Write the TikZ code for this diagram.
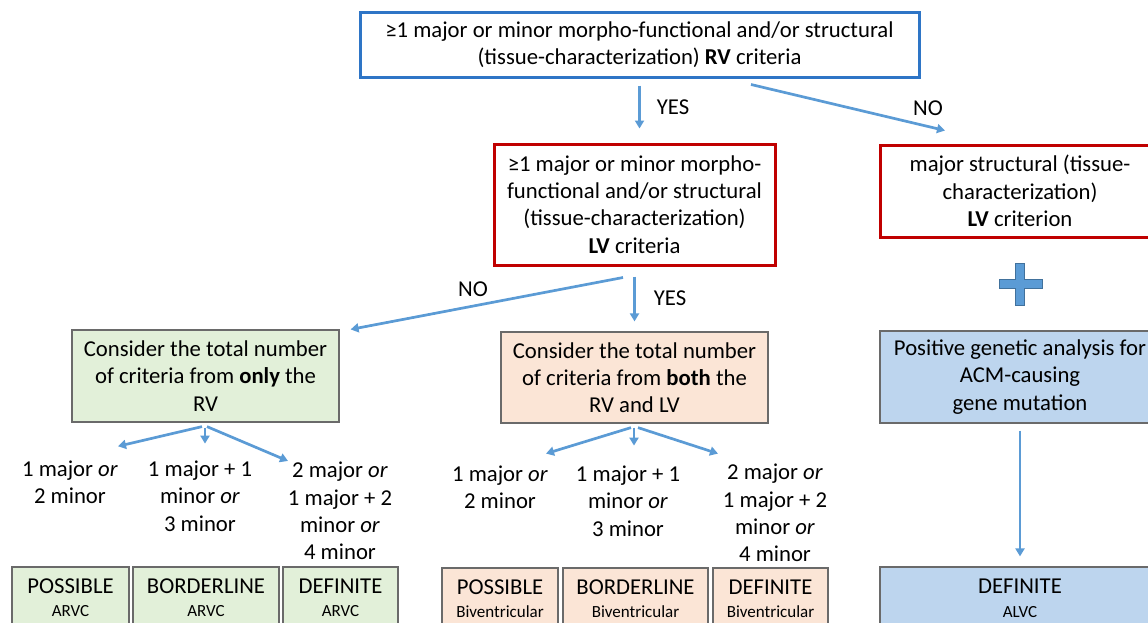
\documentclass[tikz,border=0pt]{standalone}
\usepackage{fontspec}
\setmainfont{Carlito}
\usetikzlibrary{arrows.meta,calc}
\definecolor{topblue}{HTML}{2E75C6}
\definecolor{boxred}{HTML}{C00000}
\definecolor{arrblue}{HTML}{5B9BD5}
\definecolor{gfill}{HTML}{E2F0D9}
\definecolor{pfill}{HTML}{FBE5D6}
\definecolor{bfill}{HTML}{BDD5EE}
\definecolor{bordgray}{HTML}{6A6A6A}
\definecolor{plusdark}{HTML}{41719C}
\tikzset{
  txt/.style={font=\fontsize{22.7}{27.3}\selectfont, inner sep=0pt, align=center},
  bluebox/.style={txt, draw=topblue, line width=3pt, rectangle},
  redbox/.style={txt, draw=boxred, line width=3pt, rectangle, fill=white},
  greenbox/.style={txt, draw=bordgray, line width=1.2pt, fill=gfill, rectangle},
  peachbox/.style={txt, draw=bordgray, line width=1.2pt, fill=pfill, rectangle},
  lbluebox/.style={txt, draw=bordgray, line width=1.2pt, fill=bfill, rectangle},
  arr/.style={draw=arrblue, line width=2.7pt, -{Triangle[length=8pt,width=9pt]}},
  lbl/.style={txt},
}
\newcommand{\subl}[1]{{\fontsize{17}{20}\selectfont #1}}
\begin{document}
\begin{tikzpicture}[x=1pt,y=-1pt]
\useasboundingbox (0,0) rectangle (1148,622);
\clip (0,0) rectangle (1148,622);

% top box
\node[bluebox, minimum width=559pt, minimum height=65pt] (top) at (639.5,44.5)
  {\fontsize{22.7}{26}\selectfont ≥1 major or minor morpho-functional and/or structural\\(tissue-characterization) \textbf{RV} criteria};

% LV box
\node[redbox, minimum width=281pt, minimum height=121pt] (lv) at (634.5,204.5)
  {≥1 major or minor morpho-\\functional and/or structural\\(tissue-characterization)\\\textbf{LV} criteria};

% right red box
\node[redbox, minimum width=280pt, minimum height=92pt] (rred) at (1020,191)
  {major structural (tissue-\\characterization)\\\textbf{LV} criterion};

% plus sign
\filldraw[fill=arrblue, draw=plusdark, line width=0.8pt]
  (1015.5,263) -- (1024.5,263) -- (1024.5,279.5) -- (1042,279.5) -- (1042,288.5)
  -- (1024.5,288.5) -- (1024.5,305) -- (1015.5,305) -- (1015.5,288.5) -- (999,288.5)
  -- (999,279.5) -- (1015.5,279.5) -- cycle;

% genetic box
\node[lbluebox, minimum width=280pt, minimum height=92pt] (gen) at (1020,377)
  {Positive genetic analysis for\\ACM-causing\\gene mutation};

% ALVC box
\node[lbluebox, minimum width=280pt, minimum height=62pt] (alvc) at (1020,598)
  {DEFINITE\\[-3pt]\subl{ALVC}};

% green and peach boxes
\node[greenbox, minimum width=267pt, minimum height=92pt] (green) at (205.5,376)
  {Consider the total number\\of criteria from \textbf{only} the\\RV};
\node[peachbox, minimum width=267pt, minimum height=91pt] (peach) at (634.5,377.5)
  {Consider the total number\\of criteria from \textbf{both} the\\RV and LV};

% option texts
\node[txt] (g1) at (70,482) {1 major \textit{or}\\2 minor};
\node[txt] (g2) at (200,496) {1 major + 1\\minor \textit{or}\\3 minor};
\node[txt] (g3) at (340,511) {2 major \textit{or}\\1 major + 2\\minor \textit{or}\\4 minor};
\node[txt] (p1) at (500,487) {1 major \textit{or}\\2 minor};
\node[txt] (p2) at (628,501) {1 major + 1\\minor \textit{or}\\3 minor};
\node[txt] (p3) at (775,513) {2 major \textit{or}\\1 major + 2\\minor \textit{or}\\4 minor};

% bottom result boxes
\node[greenbox, minimum width=117pt, minimum height=62pt] (gpos) at (70.5,598) {POSSIBLE\\[-4pt]\subl{ARVC}};
\node[greenbox, minimum width=146pt, minimum height=62pt] (gbor) at (206,598) {BORDERLINE\\[-4pt]\subl{ARVC}};
\node[greenbox, minimum width=115pt, minimum height=62pt] (gdef) at (340.5,598) {DEFINITE\\[-4pt]\subl{ARVC}};
\node[peachbox, minimum width=116pt, minimum height=62pt] (ppos) at (500,599) {POSSIBLE\\[-4pt]\subl{Biventricular}};
\node[peachbox, minimum width=145pt, minimum height=62pt] (pbor) at (635.5,599) {BORDERLINE\\[-4pt]\subl{Biventricular}};
\node[peachbox, minimum width=115pt, minimum height=62pt] (pdef) at (770.5,599) {DEFINITE\\[-4pt]\subl{Biventricular}};

% arrows
\draw[arr, shorten <=7pt, shorten >=14pt] (top.south) -- (top.south |- lv.north);
\draw[arr] ($(top.south)+(111.5,6)$) -- ($(rred.north)+(-75,-13)$);
\draw[arr, shorten <=10pt, shorten >=10pt] (lv.south) -- (peach.north);
\draw[arr] ($(lv.south)+(-11.5,11)$) -- ($(green.north east)+(11,0)$);
\draw[arr] ($(green.south)+(-3.5,4)$) -- ($(g1.north)+(48,-14)$);
\draw[arr] ($(green.south)+(-0.5,5)$) -- ($(green.south)+(-0.5,21)$);
\draw[arr] ($(green.south)+(1.5,4)$) -- ($(g3.north)+(-52,-1)$);
\draw[arr] ($(peach.south)+(-3.5,4)$) -- ($(peach.south)+(-88.5,30)$);
\draw[arr] ($(peach.south)+(-0.5,4)$) -- ($(peach.south)+(-0.5,22)$);
\draw[arr] ($(peach.south)+(3.5,4)$) -- ($(peach.south)+(83.5,30)$);
\draw[arr, shorten <=7pt, shorten >=10pt] (gen.south) -- (alvc.north);

% labels
\node[lbl] (yes1) at (673,107) {YES};
\node[lbl] (no1) at (928,108) {NO};
\node[lbl] (no2) at (473,289) {NO};
\node[lbl] (yes2) at (670,298) {YES};
\end{tikzpicture}
\end{document}
